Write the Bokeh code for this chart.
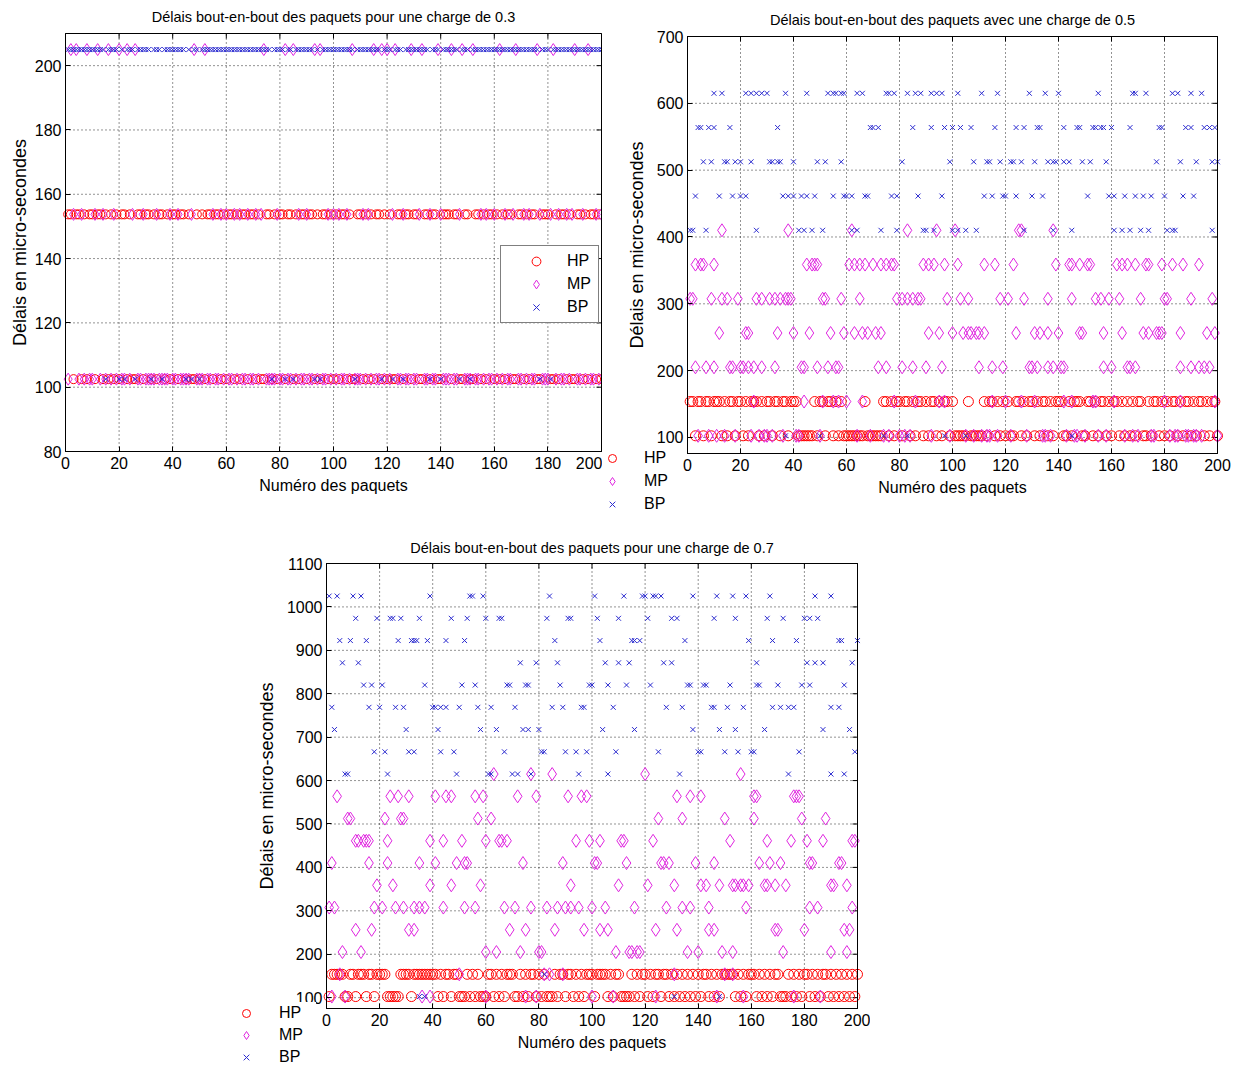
from bokeh.plotting import figure
from bokeh.layouts import column, row
from bokeh.models import (Range1d, FixedTicker, Legend, LegendItem, Spacer,
                          ColumnDataSource, BoxAnnotation, Label)
from bokeh.embed import file_html
from bokeh.resources import INLINE

FONT = "Liberation Sans"
HP_COLOR = "#ff0000"
MP_COLOR = "#e024e0"
BP_COLOR = "#2c2cd0"

# delay levels (micro-seconds)
L = [102.5, 153.75, 205, 256.25, 307.5, 358.75, 410, 461.25, 512.5, 563.75,
     615, 666.25, 717.5, 768.75, 820, 871.25, 922.5, 973.75, 1025]

N_PACKETS = 200
x_ticks = [0, 20, 40, 60, 80, 100, 120, 140, 160, 180, 200]

# ---------------- load 0.3 ----------------
title1 = "Délais bout-en-bout des paquets pour une charge de 0.3"
y_ticks1 = [80, 100, 120, 140, 160, 180, 200]
hp1_154 = [1,2,4,5,7,9,10,12,13,15,17,19,21,22,24,27,28,30,31,33,35,36,38,40,41,43,44,46,49,51,53,54,
           56,57,59,61,62,64,66,67,69,70,72,75,76,78,80,81,83,84,86,88,89,91,92,94,96,97,99,101,103,104,
           106,109,110,112,114,116,117,119,121,124,125,127,128,130,131,134,135,137,138,141,142,143,145,
           146,149,150,153,154,156,158,159,161,163,165,166,169,170,172,174,175,178,179,180,183,185,186,
           188,191,192,194,196,197,199]
mp1_205 = [2,4,8,12,16,20,23,26,48,52,74,82,85,93,95,107,115,118,120,123,129,133,139,144,148,152,162,
           168,176,182,190,195]
mp1_154 = [3,6,11,14,18,25,29,34,39,42,47,55,58,60,63,65,68,71,73,79,87,90,98,100,102,105,111,113,122,
           126,132,136,140,147,155,157,160,164,167,171,173,177,181,184,187,189,193,198,200]
bp1_103 = [15,20,22,26,32,36,45,47,50,77,82,85,93,95,108,118,122,126,136,140,147,151,177,181]

# ---------------- load 0.5 ----------------
title2 = "Délais bout-en-bout des paquets avec une charge de 0.5"
y_ticks2 = [100, 200, 300, 400, 500, 600, 700]
hp2_154 = [1,2,4,5,7,8,10,11,12,14,16,17,19,20,22,24,25,26,28,30,31,33,34,36,37,39,40,41,48,50,51,53,
           54,56,58,67,74,75,77,79,80,82,83,85,87,88,90,92,93,95,97,98,100,106,112,114,115,117,119,121,
           124,125,127,129,130,132,134,135,137,139,140,141,144,146,147,148,151,152,154,156,157,159,161,
           162,164,166,168,170,171,174,176,177,179,181,183,184,186,188,189,191,193,194,196,198,199]
mp2_410 = [13,38,62,83,94,101,125,126,138]
mp2_359 = [3,5,6,10,45,47,48,49,61,63,65,67,70,73,75,77,78,89,91,93,97,102,112,116,123,139,144,145,148,
           151,152,162,164,166,169,173,174,179,183,187,193]
mp2_307 = [1,2,9,13,15,19,26,28,31,33,35,37,38,39,51,52,58,65,79,81,83,85,87,88,98,103,106,118,121,127,
           136,145,154,156,159,163,171,180,181,190,198]
mp2_256 = [12,22,23,34,40,46,54,59,63,66,68,71,73,91,95,100,104,106,107,109,110,112,124,131,133,136,140,
           148,149,157,164,172,174,177,178,179,186,196,199]
mp2_205 = [3,7,10,16,17,20,21,23,25,28,33,43,44,49,53,56,57,72,75,81,85,90,96,110,115,119,129,130,132,
           136,138,141,142,157,160,166,167,169,186,190,193,195,197]
mp2_154 = [25,44,51,55,57,60,66,78,86,95,97,115,120,126,131,142,145,153,154,161,180,186,199]
bp2_615 = [10,13,22,24,26,28,30,37,45,53,55,56,58,59,64,66,75,76,78,83,86,88,92,94,96,102,111,117,129,
           135,140,155,168,169,173,183,185,190,194]
bp2_564 = [4,5,8,10,16,34,69,70,72,85,92,97,100,103,107,116,124,127,132,133,142,147,148,153,154,156,157,
           160,167,178,179,188,190,195,197,199]
bp2_513 = [6,9,14,15,18,20,24,31,32,34,35,40,49,52,58,81,99,108,113,114,118,122,123,126,131,136,138,139,
           142,144,149,152,158,177,186,192,198,200]
bp2_461 = [3,12,17,20,22,36,38,40,43,45,48,55,59,60,62,67,68,77,79,87,96,112,115,119,120,124,130,134,151,
           159,161,165,169,172,175,180,187,191]
bp2_410 = [1,2,7,26,42,44,47,51,62,64,73,79,89,90,93,100,102,105,109,127,138,145,161,164,167,171,174,181,
           183,184,198]
bp2_103 = [37,50,74,83,97,105,145]

# ---------------- load 0.7 ----------------
title3 = "Délais bout-en-bout des paquets pour une charge de 0.7"
y_ticks3 = [100, 200, 300, 400, 500, 600, 700, 800, 900, 1000, 1100]
hp3_154 = [2,3,4,5,6,9,10,12,13,14,16,17,19,20,21,22,28,29,30,31,33,34,35,36,37,38,39,40,41,43,45,46,48,
           49,53,55,57,61,62,64,66,68,69,70,73,75,77,78,80,82,86,88,89,91,92,94,96,98,99,100,102,103,104,
           105,107,109,110,115,117,119,120,122,124,125,127,128,130,132,134,136,138,140,142,143,145,147,149,
           150,151,152,153,155,157,159,160,161,163,165,167,169,170,174,176,178,180,181,183,185,187,188,190,
           192,194,196,198,200]
mp3_615 = [63,77,85,120,156]
mp3_564 = [4,24,27,31,41,45,47,56,59,72,79,91,96,98,132,137,141,161,162,176,177,178]
mp3_512 = [8,9,22,28,29,57,62,125,134,150,161,179,188]
mp3_461 = [11,12,14,15,16,23,39,44,51,60,65,66,68,94,99,103,111,112,123,152,166,175,181,187,198,199]
mp3_410 = [2,16,23,35,41,49,52,53,74,89,101,102,113,126,127,129,139,146,163,167,171,182,183,193,194]
mp3_359 = [19,25,39,47,58,92,110,121,131,141,143,148,153,154,156,157,159,165,166,169,173,190,191,196]
mp3_307 = [1,3,18,21,26,29,33,35,37,44,52,56,67,71,77,83,87,90,92,95,100,105,116,128,134,137,144,158,
           182,185,198]
mp3_256 = [11,17,31,33,69,75,86,97,103,106,124,132,144,146,169,170,180,195,197]
mp3_205 = [6,13,60,64,73,80,81,109,114,115,117,118,136,140,149,153,172,190,196]
mp3_154 = [5,50,82,84,89,131,150,153]
mp3_103 = [2,7,36,39,60,75,79,100,108,124,147,157,176,186]
bp3_1025 = [1,4,10,13,39,54,55,59,84,101,112,119,120,123,124,126,138,147,153,158,167,184,190]
bp3_973 = [11,19,24,25,28,35,47,53,60,65,66,83,91,92,102,110,121,130,132,146,154,166,172,180,182,185]
bp3_922 = [5,9,15,27,32,33,34,38,45,52,86,103,115,116,118,135,159,168,177,193,194,200]
bp3_871 = [6,12,73,79,87,105,110,114,127,130,162,181,184,187,198]
bp3_820 = [14,17,21,37,51,56,68,69,75,76,88,99,100,106,113,122,136,137,142,143,152,162,163,170,179,
           182,195]
bp3_768 = [2,16,20,26,29,40,41,43,45,50,57,62,71,85,89,96,97,108,128,134,145,146,151,157,168,171,174,
           176,190,193]
bp3_717 = [3,30,42,58,64,74,76,80,104,116,138,148,154,165,187,197]
bp3_666 = [18,22,31,33,43,48,67,81,82,90,94,98,109,125,140,141,150,155,160,161,178,199]
bp3_615 = [7,8,23,49,61,62,70,72,77,95,106,133,174,190,195]
bp3_154 = [82]
bp3_103 = [35,37,131,148]


def series(pairs, default=None):
    """pairs: list of (level value, packet numbers); packets not listed take `default`."""
    xs, ys, seen = [], [], set()
    for lvl, pk in pairs:
        for k in pk:
            xs.append(k)
            ys.append(lvl)
            seen.add(k)
    if default is not None:
        for k in range(1, N_PACKETS + 1):
            if k not in seen:
                xs.append(k)
                ys.append(default)
    return ColumnDataSource(dict(x=xs, y=ys))


def style_axes(p, yticks, ylab_standoff, xlab_standoff):
    for ax in p.xaxis + p.yaxis:
        ax.major_label_text_font = FONT
        ax.major_label_text_font_size = "16px"
        ax.major_label_text_color = "black"
        ax.axis_label_text_font = FONT
        ax.axis_label_text_font_style = "normal"
        ax.axis_label_text_color = "black"
        ax.major_tick_in = 5
        ax.major_tick_out = 0
        ax.minor_tick_line_color = None
        ax.axis_line_color = "black"
        ax.major_tick_line_color = "black"
    p.xaxis.ticker = FixedTicker(ticks=x_ticks)
    p.yaxis.ticker = FixedTicker(ticks=yticks)
    p.xaxis.axis_label = "Numéro des paquets"
    p.xaxis.axis_label_text_font_size = "16px"
    p.xaxis.major_label_standoff = 5
    p.xaxis.axis_label_standoff = xlab_standoff
    p.yaxis.axis_label = "Délais en micro-secondes"
    p.yaxis.axis_label_text_font_size = "18px"
    p.yaxis.major_label_standoff = 4
    p.yaxis.axis_label_standoff = ylab_standoff


def open_fig(title, cw, ch, bl, bt, bw, bh, xr, yr, yticks, ylab_standoff, title_y):
    """Figure whose frame is the whole canvas; the axes box is drawn at (bl, bt, bw, bh)."""
    sx = bw / (xr[1] - xr[0])
    sy = bh / (yr[1] - yr[0])
    fx = Range1d(xr[0] - bl / sx, xr[1] + (cw - bl - bw) / sx)
    fy = Range1d(yr[0] - (ch - bt - bh) / sy, yr[1] + bt / sy)
    p = figure(width=cw, height=ch, x_range=fx, y_range=fy,
               output_backend="svg", toolbar_location=None, min_border=0)
    p.outline_line_color = None
    p.xgrid.visible = False
    p.ygrid.visible = False
    style_axes(p, yticks, ylab_standoff, 5)
    p.xaxis.fixed_location = yr[0]
    p.xaxis.bounds = xr
    p.yaxis.fixed_location = xr[0]
    p.yaxis.bounds = yr
    # dotted grid restricted to the box
    p.segment(x0=x_ticks, y0=[yr[0]] * len(x_ticks), x1=x_ticks, y1=[yr[1]] * len(x_ticks),
              line_color="black", line_alpha=0.85, line_dash="1 3", line_width=1)
    p.segment(x0=[xr[0]] * len(yticks), y0=yticks, x1=[xr[1]] * len(yticks), y1=yticks,
              line_color="black", line_alpha=0.85, line_dash="1 3", line_width=1)
    # small inward ticks on the top and right edges (5 px)
    dx = 5 / sx
    dy = 5 / sy
    p.segment(x0=[xr[1]] * len(yticks), y0=yticks, x1=[xr[1] - dx] * len(yticks), y1=yticks,
              line_color="black", line_width=1)
    p.segment(x0=x_ticks, y0=[yr[1]] * len(x_ticks), x1=x_ticks, y1=[yr[1] - dy] * len(x_ticks),
              line_color="black", line_width=1)
    p.add_layout(BoxAnnotation(left=xr[0], right=xr[1], bottom=yr[0], top=yr[1],
                               fill_color=None, line_color="black", line_width=1,
                               line_alpha=1))
    p.add_layout(Label(x=(xr[0] + xr[1]) / 2, y=ch - title_y, y_units="screen", text=title,
                       text_align="center", text_baseline="middle", text_font=FONT,
                       text_font_size="14.5px", text_color="black"))
    return p


def add_series(p, hp, mp, bp, size_c, size_d, size_x):
    r_hp = p.scatter("x", "y", source=hp, marker="circle", size=size_c,
                     fill_color=None, line_color=HP_COLOR, line_width=1)
    r_mp = p.scatter("x", "y", source=mp, marker="diamond", size=size_d,
                     fill_color=None, line_color=MP_COLOR, line_width=1)
    r_bp = p.scatter("x", "y", source=bp, marker="x", size=size_x,
                     line_color=BP_COLOR, line_width=1)
    return r_hp, r_mp, r_bp


def add_legend(p, rs, loc, border, glyph_w, standoff, spacing, padding, label_w):
    items = [LegendItem(label=n, renderers=[r]) for n, r in zip(["HP", "MP", "BP"], rs)]
    lg = Legend(items=items, location=loc, margin=0, padding=padding, spacing=spacing,
                glyph_width=glyph_w, glyph_height=22, label_height=22, label_width=label_w,
                label_standoff=standoff, label_text_font=FONT, label_text_font_size="16px",
                label_text_color="black", background_fill_color="white",
                background_fill_alpha=1,
                border_line_color="black" if border else None, border_line_width=1)
    p.add_layout(lg)


ROW1_H = 512

# ---- plot 1 (load 0.3) ----
p1 = open_fig(title1, 594, ROW1_H, 57, 25, 536, 418, (0, 200), (80, 210), y_ticks1, 2, 8)
s_hp1 = series([(L[1], hp1_154)], default=L[0])
s_mp1 = series([(L[2], mp1_205), (L[1], mp1_154)], default=L[0])
s_bp1 = series([(L[0], bp1_103)], default=L[2])
r1 = add_series(p1, s_hp1, s_mp1, s_bp1, 9, 12, 7)
add_legend(p1, r1, (492, 197), True, 62, 0, 1, 4, 27)

# ---- plot 2 (load 0.5) ----
p2 = open_fig(title2, 630, ROW1_H, 85, 28, 530, 417, (0, 200), (76, 700), y_ticks2, 7, 11)
s_hp2 = series([(L[1], hp2_154)], default=L[0])
s_mp2 = series([(L[6], mp2_410), (L[5], mp2_359), (L[4], mp2_307), (L[3], mp2_256),
                (L[2], mp2_205), (L[1], mp2_154)], default=L[0])
s_bp2 = series([(L[10], bp2_615), (L[9], bp2_564), (L[8], bp2_513), (L[7], bp2_461),
                (L[6], bp2_410), (L[0], bp2_103)])
r2 = add_series(p2, s_hp2, s_mp2, s_bp2, 10, 13, 7)
add_legend(p2, r2, (0, 5), False, 20, 22, 1, 5, 32)

# ---- plot 3 (load 0.7) ----
p3 = open_fig(title3, 662, 546, 118, 43, 531, 445, (0, 200), (75, 1100), y_ticks3, 7, 27)
s_hp3 = series([(L[1], hp3_154)], default=L[0])
s_mp3 = series([(L[10], mp3_615), (L[9], mp3_564), (L[8], mp3_512), (L[7], mp3_461),
                (L[6], mp3_410), (L[5], mp3_359), (L[4], mp3_307), (L[3], mp3_256),
                (L[2], mp3_205), (L[1], mp3_154), (L[0], mp3_103)])
s_bp3 = series([(L[18], bp3_1025), (L[17], bp3_973), (L[16], bp3_922), (L[15], bp3_871),
                (L[14], bp3_820), (L[13], bp3_768), (L[12], bp3_717), (L[11], bp3_666),
                (L[10], bp3_615), (L[1], bp3_154), (L[0], bp3_103)])
r3 = add_series(p3, s_hp3, s_mp3, s_bp3, 10, 13, 7)
add_legend(p3, r3, (28, -2), False, 20, 23, 0, 3, 37)

grid = column(row(p1, p2), row(Spacer(width=200, height=10), p3))
layout = column(Spacer(width=10, height=8), row(Spacer(width=8, height=10), grid))

open("out.html", "w").write(file_html(layout, INLINE))
